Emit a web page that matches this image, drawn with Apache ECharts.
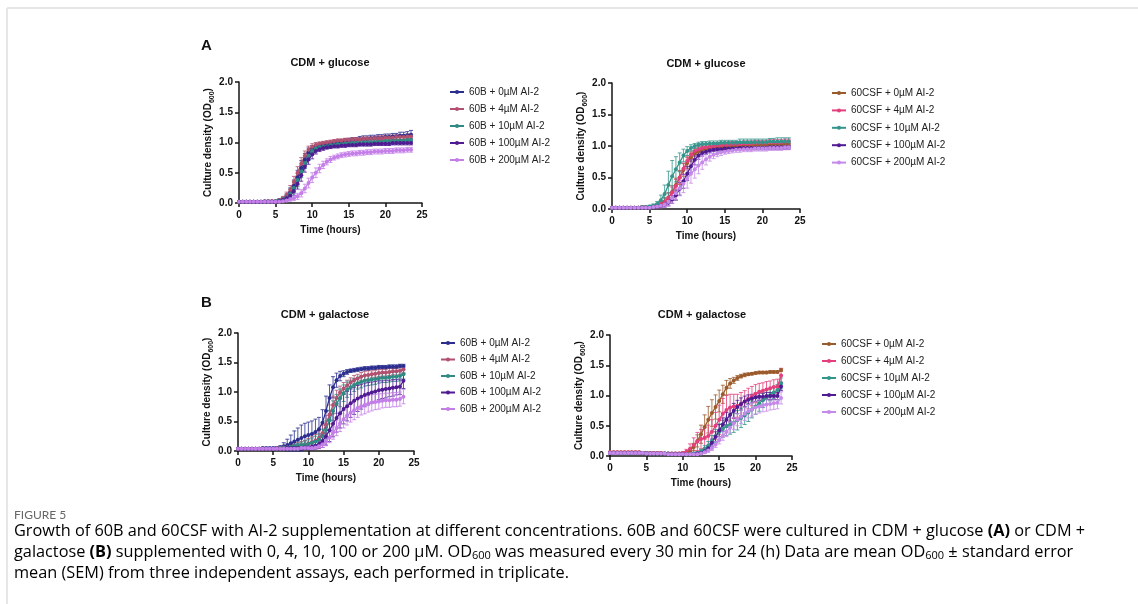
<!DOCTYPE html>
<html><head><meta charset="utf-8">
<script src="https://cdn.jsdelivr.net/npm/echarts@6/dist/echarts.min.js"></script>
<style>html,body{margin:0;padding:0;background:#fff}#c{width:1138px;height:604px}</style>
</head><body><div id="c"></div><script>
// ---------- DATA ----------
const hours = [0,0.5,1,1.5,2,2.5,3,3.5,4,4.5,5,5.5,6,6.5,7,7.5,8,8.5,9,9.5,
 10,10.5,11,11.5,12,12.5,13,13.5,14,14.5,15,15.5,16,16.5,17,17.5,18,18.5,19,19.5,
 20,20.5,21,21.5,22,22.5,23,23.5];
const xTicks = [0,5,10,15,20,25];
const yTicks = [0,0.5,1,1.5,2];
const concentrations = ['0µM','4µM','10µM','100µM','200µM'];
const strains = ['60B','60CSF'];
const panelTitles = ['CDM + glucose','CDM + glucose','CDM + galactose','CDM + galactose'];
const panelLetters = ['A','B'];

// Panel A left: 60B, CDM + glucose (mean, SEM)
const gluB_0 = [0.02,0.02,0.02,0.02,0.02,0.02,0.02,0.03,0.03,0.03,
 0.03,0.04,0.06,0.10,0.17,0.28,0.42,0.58,0.72,0.83,
 0.89,0.92,0.94,0.96,0.97,0.98,0.99,1.00,1.01,1.02,
 1.03,1.04,1.04,1.05,1.06,1.06,1.07,1.07,1.08,1.08,
 1.09,1.09,1.10,1.10,1.11,1.11,1.12,1.13];
const gluB_0e = [0.01,0.01,0.01,0.01,0.01,0.01,0.01,0.01,0.01,0.01,
 0.01,0.02,0.03,0.05,0.08,0.10,0.12,0.12,0.10,0.08,
 0.06,0.05,0.04,0.04,0.04,0.04,0.04,0.04,0.04,0.04,
 0.04,0.04,0.04,0.05,0.05,0.05,0.05,0.05,0.05,0.05,
 0.05,0.05,0.05,0.05,0.06,0.06,0.06,0.07];
const gluB_4 = [0.02,0.02,0.02,0.02,0.02,0.02,0.02,0.02,0.03,0.03,
 0.03,0.05,0.08,0.13,0.22,0.35,0.50,0.65,0.78,0.88,
 0.93,0.96,0.98,0.99,1.00,1.01,1.02,1.03,1.03,1.04,
 1.04,1.05,1.05,1.05,1.06,1.06,1.06,1.07,1.07,1.07,
 1.08,1.08,1.08,1.09,1.09,1.09,1.10,1.10];
const gluB_4e = [0.01,0.01,0.01,0.01,0.01,0.01,0.01,0.01,0.01,0.01,
 0.01,0.02,0.03,0.05,0.07,0.09,0.10,0.10,0.08,0.06,
 0.05,0.04,0.03,0.03,0.03,0.03,0.03,0.03,0.03,0.03,
 0.03,0.03,0.03,0.03,0.03,0.03,0.03,0.03,0.04,0.04,
 0.04,0.04,0.04,0.04,0.04,0.04,0.04,0.04];
const gluB_10 = [0.02,0.02,0.02,0.02,0.02,0.02,0.02,0.02,0.02,0.02,
 0.03,0.04,0.06,0.09,0.15,0.25,0.38,0.52,0.66,0.78,
 0.86,0.90,0.92,0.93,0.94,0.95,0.96,0.97,0.97,0.98,
 0.98,0.99,0.99,0.99,1.00,1.00,1.00,1.01,1.01,1.01,
 1.02,1.02,1.02,1.03,1.03,1.03,1.04,1.04];
const gluB_10e = [0.01,0.01,0.01,0.01,0.01,0.01,0.01,0.01,0.01,0.01,
 0.01,0.02,0.03,0.05,0.08,0.10,0.11,0.10,0.09,0.07,
 0.05,0.04,0.04,0.04,0.04,0.04,0.04,0.04,0.04,0.04,
 0.04,0.04,0.04,0.04,0.04,0.04,0.04,0.04,0.04,0.04,
 0.04,0.04,0.05,0.05,0.05,0.05,0.05,0.05];
const gluB_100 = [0.02,0.02,0.02,0.02,0.02,0.02,0.02,0.02,0.02,0.02,
 0.02,0.03,0.05,0.08,0.12,0.20,0.32,0.46,0.60,0.72,
 0.80,0.86,0.89,0.91,0.92,0.93,0.94,0.94,0.95,0.95,
 0.96,0.96,0.96,0.97,0.97,0.97,0.97,0.98,0.98,0.98,
 0.98,0.98,0.99,0.99,0.99,0.99,0.99,0.99];
const gluB_100e = [0.01,0.01,0.01,0.01,0.01,0.01,0.01,0.01,0.01,0.01,
 0.01,0.01,0.02,0.04,0.06,0.08,0.09,0.10,0.09,0.08,
 0.07,0.05,0.04,0.04,0.03,0.03,0.03,0.03,0.03,0.03,
 0.03,0.03,0.03,0.03,0.03,0.03,0.03,0.03,0.03,0.03,
 0.03,0.03,0.03,0.03,0.03,0.03,0.03,0.03];
const gluB_200 = [0.02,0.02,0.02,0.02,0.02,0.02,0.02,0.02,0.02,0.02,
 0.02,0.02,0.03,0.04,0.06,0.08,0.11,0.16,0.24,0.33,
 0.42,0.50,0.57,0.63,0.68,0.72,0.75,0.77,0.79,0.80,
 0.81,0.82,0.82,0.83,0.83,0.84,0.84,0.85,0.85,0.85,
 0.86,0.86,0.86,0.87,0.87,0.87,0.88,0.88];
const gluB_200e = [0.01,0.01,0.01,0.01,0.01,0.01,0.01,0.01,0.01,0.01,
 0.01,0.01,0.01,0.02,0.03,0.04,0.05,0.06,0.07,0.08,
 0.08,0.08,0.07,0.06,0.05,0.05,0.04,0.04,0.04,0.04,
 0.04,0.04,0.04,0.04,0.04,0.04,0.04,0.04,0.04,0.04,
 0.04,0.04,0.04,0.04,0.04,0.04,0.04,0.04];

// Panel A right: 60CSF, CDM + glucose
const gluC_0 = [0.02,0.02,0.02,0.02,0.02,0.02,0.02,0.02,0.03,0.03,
 0.03,0.04,0.05,0.08,0.12,0.18,0.27,0.38,0.50,0.62,
 0.73,0.82,0.88,0.91,0.93,0.95,0.96,0.97,0.98,0.98,
 0.99,0.99,1.00,1.00,1.00,1.01,1.01,1.01,1.01,1.02,
 1.02,1.02,1.02,1.03,1.03,1.03,1.03,1.04];
const gluC_0e = [0.01,0.01,0.01,0.01,0.01,0.01,0.01,0.01,0.01,0.01,
 0.01,0.02,0.03,0.04,0.06,0.08,0.10,0.11,0.11,0.10,
 0.09,0.07,0.05,0.04,0.04,0.04,0.04,0.04,0.04,0.04,
 0.04,0.04,0.04,0.04,0.04,0.04,0.04,0.04,0.04,0.04,
 0.04,0.04,0.04,0.04,0.04,0.04,0.04,0.04];
const gluC_4 = [0.02,0.02,0.02,0.02,0.02,0.02,0.02,0.02,0.03,0.03,
 0.03,0.04,0.05,0.08,0.12,0.18,0.26,0.37,0.50,0.64,
 0.76,0.86,0.92,0.95,0.97,0.98,0.99,1.00,1.01,1.01,
 1.02,1.02,1.03,1.03,1.03,1.04,1.04,1.04,1.05,1.05,
 1.05,1.05,1.06,1.06,1.06,1.06,1.07,1.07];
const gluC_4e = [0.01,0.01,0.01,0.01,0.01,0.01,0.01,0.01,0.01,0.01,
 0.01,0.02,0.03,0.04,0.05,0.07,0.09,0.10,0.10,0.09,
 0.08,0.06,0.05,0.04,0.04,0.04,0.04,0.04,0.04,0.04,
 0.04,0.04,0.04,0.04,0.04,0.04,0.04,0.04,0.04,0.04,
 0.04,0.04,0.04,0.04,0.04,0.04,0.04,0.04];
const gluC_10 = [0.02,0.02,0.02,0.02,0.02,0.02,0.02,0.02,0.03,0.03,
 0.04,0.05,0.08,0.14,0.24,0.38,0.52,0.63,0.74,0.85,
 0.92,0.97,1.00,1.02,1.03,1.03,1.04,1.04,1.04,1.05,
 1.05,1.05,1.05,1.05,1.06,1.06,1.06,1.06,1.06,1.06,
 1.06,1.06,1.07,1.07,1.07,1.07,1.07,1.07];
const gluC_10e = [0.01,0.01,0.01,0.01,0.01,0.01,0.01,0.01,0.01,0.01,
 0.02,0.03,0.04,0.08,0.14,0.22,0.25,0.20,0.15,0.10,
 0.07,0.05,0.04,0.04,0.04,0.04,0.04,0.04,0.04,0.04,
 0.04,0.04,0.04,0.04,0.05,0.05,0.05,0.05,0.05,0.05,
 0.05,0.05,0.05,0.05,0.06,0.06,0.06,0.06];
const gluC_100 = [0.02,0.02,0.02,0.02,0.02,0.02,0.02,0.02,0.02,0.02,
 0.02,0.03,0.04,0.05,0.07,0.10,0.15,0.22,0.32,0.44,
 0.56,0.68,0.78,0.85,0.89,0.91,0.93,0.94,0.95,0.95,
 0.96,0.96,0.96,0.96,0.97,0.97,0.97,0.97,0.97,0.97,
 0.97,0.97,0.98,0.98,0.98,0.98,0.98,0.98];
const gluC_100e = [0.01,0.01,0.01,0.01,0.01,0.01,0.01,0.01,0.01,0.01,
 0.01,0.01,0.02,0.03,0.04,0.05,0.06,0.08,0.10,0.11,
 0.11,0.10,0.08,0.06,0.05,0.04,0.04,0.03,0.03,0.03,
 0.03,0.03,0.03,0.03,0.03,0.03,0.03,0.03,0.03,0.03,
 0.03,0.03,0.03,0.03,0.03,0.03,0.03,0.03];
const gluC_200 = [0.02,0.02,0.02,0.02,0.02,0.02,0.02,0.02,0.02,0.02,
 0.02,0.03,0.04,0.05,0.07,0.11,0.17,0.25,0.33,0.40,
 0.48,0.56,0.63,0.69,0.74,0.79,0.83,0.86,0.88,0.90,
 0.91,0.92,0.93,0.94,0.94,0.95,0.95,0.95,0.96,0.96,
 0.96,0.96,0.97,0.97,0.97,0.97,0.98,0.98];
const gluC_200e = [0.01,0.01,0.01,0.01,0.01,0.01,0.01,0.01,0.01,0.01,
 0.01,0.01,0.02,0.03,0.04,0.06,0.08,0.10,0.12,0.14,
 0.15,0.15,0.14,0.13,0.11,0.09,0.07,0.06,0.05,0.05,
 0.04,0.04,0.04,0.04,0.04,0.04,0.04,0.04,0.04,0.04,
 0.04,0.04,0.04,0.04,0.04,0.04,0.04,0.04];

// Panel B left: 60B, CDM + galactose
const galB_0 = [0.04,0.04,0.04,0.04,0.04,0.04,0.04,0.05,0.05,0.05,
 0.05,0.05,0.06,0.08,0.10,0.13,0.16,0.19,0.22,0.25,
 0.27,0.29,0.32,0.37,0.48,0.68,0.90,1.08,1.20,1.27,
 1.31,1.34,1.36,1.37,1.38,1.39,1.40,1.40,1.41,1.41,
 1.42,1.42,1.42,1.43,1.43,1.43,1.44,1.44];
const galB_0e = [0.01,0.01,0.01,0.01,0.01,0.01,0.01,0.01,0.01,0.01,
 0.01,0.02,0.03,0.06,0.10,0.14,0.18,0.20,0.22,0.22,
 0.22,0.22,0.22,0.20,0.22,0.25,0.22,0.18,0.12,0.08,
 0.05,0.04,0.03,0.03,0.03,0.03,0.03,0.03,0.03,0.03,
 0.03,0.03,0.03,0.03,0.03,0.03,0.03,0.03];
const galB_4 = [0.04,0.04,0.04,0.04,0.04,0.04,0.04,0.04,0.04,0.04,
 0.04,0.05,0.05,0.06,0.06,0.07,0.08,0.09,0.10,0.11,
 0.13,0.15,0.18,0.22,0.30,0.45,0.62,0.78,0.90,0.99,
 1.06,1.11,1.16,1.20,1.23,1.26,1.28,1.29,1.30,1.31,
 1.32,1.33,1.33,1.34,1.35,1.35,1.36,1.38];
const galB_4e = [0.01,0.01,0.01,0.01,0.01,0.01,0.01,0.01,0.01,0.01,
 0.01,0.01,0.01,0.02,0.02,0.03,0.04,0.05,0.06,0.07,
 0.08,0.09,0.10,0.12,0.14,0.15,0.16,0.15,0.13,0.11,
 0.10,0.09,0.08,0.08,0.07,0.07,0.07,0.07,0.06,0.06,
 0.06,0.06,0.06,0.06,0.06,0.06,0.06,0.06];
const galB_10 = [0.04,0.04,0.04,0.04,0.04,0.04,0.04,0.04,0.04,0.04,
 0.04,0.04,0.05,0.05,0.06,0.07,0.08,0.09,0.10,0.11,
 0.12,0.14,0.16,0.19,0.25,0.36,0.52,0.68,0.80,0.90,
 0.98,1.04,1.08,1.12,1.15,1.17,1.19,1.20,1.21,1.22,
 1.23,1.24,1.24,1.25,1.26,1.26,1.27,1.30];
const galB_10e = [0.01,0.01,0.01,0.01,0.01,0.01,0.01,0.01,0.01,0.01,
 0.01,0.01,0.01,0.02,0.02,0.03,0.03,0.04,0.05,0.06,
 0.07,0.08,0.09,0.10,0.12,0.15,0.17,0.17,0.16,0.15,
 0.14,0.13,0.12,0.11,0.10,0.10,0.09,0.09,0.09,0.09,
 0.08,0.08,0.08,0.08,0.08,0.08,0.08,0.08];
const galB_100 = [0.04,0.04,0.04,0.04,0.04,0.04,0.04,0.04,0.04,0.04,
 0.04,0.04,0.04,0.04,0.05,0.05,0.05,0.05,0.05,0.06,
 0.06,0.07,0.09,0.12,0.17,0.25,0.35,0.46,0.56,0.64,
 0.71,0.76,0.81,0.85,0.89,0.92,0.95,0.97,0.99,1.01,
 1.03,1.04,1.05,1.06,1.07,1.08,1.09,1.19];
const galB_100e = [0.01,0.01,0.01,0.01,0.01,0.01,0.01,0.01,0.01,0.01,
 0.01,0.01,0.01,0.01,0.02,0.02,0.02,0.02,0.03,0.03,
 0.04,0.05,0.06,0.08,0.11,0.15,0.19,0.22,0.24,0.25,
 0.25,0.25,0.24,0.23,0.22,0.21,0.20,0.19,0.18,0.17,
 0.16,0.15,0.15,0.14,0.14,0.13,0.13,0.13];
const galB_200 = [0.04,0.04,0.04,0.04,0.04,0.04,0.04,0.04,0.04,0.04,
 0.04,0.04,0.04,0.04,0.04,0.04,0.04,0.04,0.05,0.05,
 0.05,0.05,0.06,0.08,0.11,0.16,0.23,0.31,0.39,0.47,
 0.54,0.60,0.65,0.69,0.73,0.76,0.78,0.80,0.82,0.83,
 0.84,0.85,0.86,0.86,0.87,0.87,0.88,0.92];
const galB_200e = [0.01,0.01,0.01,0.01,0.01,0.01,0.01,0.01,0.01,0.01,
 0.01,0.01,0.01,0.01,0.01,0.01,0.01,0.01,0.01,0.01,
 0.01,0.02,0.02,0.03,0.05,0.07,0.09,0.11,0.13,0.14,
 0.15,0.16,0.16,0.16,0.16,0.15,0.15,0.14,0.14,0.13,
 0.13,0.12,0.12,0.12,0.12,0.12,0.12,0.12];

// Panel B right: 60CSF, CDM + galactose
const galC_0 = [0.06,0.06,0.06,0.06,0.06,0.06,0.06,0.06,0.06,0.05,
 0.05,0.05,0.05,0.05,0.05,0.04,0.04,0.04,0.04,0.04,
 0.04,0.05,0.08,0.15,0.25,0.36,0.48,0.60,0.71,0.81,
 0.91,1.02,1.13,1.20,1.25,1.29,1.32,1.34,1.35,1.36,
 1.37,1.38,1.38,1.38,1.39,1.39,1.39,1.42];
const galC_0e = [0.01,0.01,0.01,0.01,0.01,0.01,0.01,0.01,0.01,0.01,
 0.01,0.01,0.01,0.01,0.01,0.01,0.01,0.01,0.01,0.01,
 0.01,0.02,0.04,0.06,0.10,0.15,0.20,0.22,0.22,0.20,
 0.18,0.15,0.12,0.08,0.05,0.04,0.03,0.03,0.02,0.02,
 0.02,0.02,0.02,0.02,0.02,0.02,0.02,0.02];
const galC_4 = [0.06,0.06,0.06,0.06,0.06,0.06,0.06,0.06,0.06,0.05,
 0.05,0.05,0.05,0.05,0.05,0.04,0.04,0.04,0.04,0.04,
 0.05,0.07,0.12,0.18,0.24,0.28,0.30,0.33,0.40,0.50,
 0.60,0.70,0.76,0.80,0.82,0.83,0.86,0.90,0.95,0.99,
 1.03,1.06,1.08,1.10,1.12,1.14,1.15,1.33];
const galC_4e = [0.01,0.01,0.01,0.01,0.01,0.01,0.01,0.01,0.01,0.01,
 0.01,0.01,0.01,0.01,0.01,0.01,0.01,0.01,0.01,0.01,
 0.02,0.04,0.08,0.12,0.15,0.16,0.17,0.18,0.20,0.22,
 0.24,0.25,0.24,0.22,0.20,0.19,0.19,0.18,0.17,0.16,
 0.15,0.14,0.13,0.13,0.12,0.12,0.12,0.12];
const galC_10 = [0.05,0.05,0.05,0.05,0.05,0.05,0.05,0.05,0.05,0.05,
 0.05,0.04,0.04,0.04,0.04,0.04,0.04,0.03,0.03,0.03,
 0.03,0.03,0.03,0.04,0.05,0.08,0.12,0.17,0.25,0.33,
 0.40,0.45,0.49,0.52,0.55,0.59,0.63,0.67,0.72,0.77,
 0.82,0.87,0.92,0.97,1.01,1.05,1.09,1.20];
const galC_10e = [0.01,0.01,0.01,0.01,0.01,0.01,0.01,0.01,0.01,0.01,
 0.01,0.01,0.01,0.01,0.01,0.01,0.01,0.01,0.01,0.01,
 0.01,0.01,0.01,0.02,0.02,0.03,0.05,0.07,0.09,0.11,
 0.13,0.14,0.15,0.16,0.16,0.16,0.16,0.15,0.15,0.14,
 0.13,0.13,0.12,0.11,0.10,0.10,0.09,0.09];
const galC_100 = [0.05,0.05,0.05,0.05,0.05,0.05,0.05,0.05,0.05,0.05,
 0.04,0.04,0.04,0.04,0.04,0.04,0.03,0.03,0.03,0.03,
 0.03,0.03,0.03,0.03,0.04,0.05,0.08,0.13,0.22,0.32,
 0.42,0.52,0.60,0.68,0.75,0.81,0.86,0.90,0.93,0.95,
 0.97,0.98,0.98,0.99,0.99,0.99,0.99,1.15];
const galC_100e = [0.01,0.01,0.01,0.01,0.01,0.01,0.01,0.01,0.01,0.01,
 0.01,0.01,0.01,0.01,0.01,0.01,0.01,0.01,0.01,0.01,
 0.01,0.01,0.01,0.01,0.01,0.02,0.03,0.04,0.06,0.08,
 0.10,0.11,0.12,0.12,0.12,0.11,0.10,0.09,0.08,0.07,
 0.07,0.06,0.06,0.06,0.06,0.06,0.06,0.07];
const galC_200 = [0.05,0.05,0.05,0.05,0.05,0.05,0.05,0.05,0.05,0.05,
 0.04,0.04,0.04,0.04,0.04,0.04,0.03,0.03,0.03,0.03,
 0.03,0.03,0.03,0.03,0.03,0.04,0.06,0.09,0.13,0.19,
 0.26,0.33,0.40,0.47,0.54,0.60,0.65,0.70,0.74,0.77,
 0.80,0.82,0.84,0.85,0.86,0.87,0.88,0.96];
const galC_200e = [0.01,0.01,0.01,0.01,0.01,0.01,0.01,0.01,0.01,0.01,
 0.01,0.01,0.01,0.01,0.01,0.01,0.01,0.01,0.01,0.01,
 0.01,0.01,0.01,0.01,0.01,0.01,0.02,0.03,0.04,0.05,
 0.06,0.07,0.08,0.09,0.10,0.10,0.11,0.11,0.11,0.11,
 0.11,0.11,0.11,0.11,0.10,0.10,0.10,0.10];

const colors60B = ['#2b2e8e','#b2506f','#2f8a83','#4f1a92','#c47ee8'];
const colors60CSF = ['#9b5a2b','#e23f7c','#33958b','#4f1a92','#c58ae9'];

// ---------- LAYOUT ----------
const F = 'Liberation Sans';
const panels = [
  {grid:{left:239,top:82,width:183,height:121}, title:panelTitles[0], tx:330, ty:63, lx:444, ly:81,
   strain:strains[0], colors:colors60B,
   means:[gluB_0,gluB_4,gluB_10,gluB_100,gluB_200], errs:[gluB_0e,gluB_4e,gluB_10e,gluB_100e,gluB_200e]},
  {grid:{left:612,top:83,width:188,height:126}, title:panelTitles[1], tx:706, ty:64, lx:826, ly:82, gap:5.4,
   strain:strains[1], colors:colors60CSF,
   means:[gluC_0,gluC_4,gluC_10,gluC_100,gluC_200], errs:[gluC_0e,gluC_4e,gluC_10e,gluC_100e,gluC_200e]},
  {grid:{left:238,top:333,width:176,height:118}, title:panelTitles[2], tx:325, ty:315, lx:435, ly:332, gap:4.5,
   strain:strains[0], colors:colors60B,
   means:[galB_0,galB_4,galB_10,galB_100,galB_200], errs:[galB_0e,galB_4e,galB_10e,galB_100e,galB_200e]},
  {grid:{left:610,top:335,width:182,height:121}, title:panelTitles[3], tx:702, ty:315, lx:816, ly:333,
   strain:strains[1], colors:colors60CSF,
   means:[galC_0,galC_4,galC_10,galC_100,galC_200], errs:[galC_0e,galC_4e,galC_10e,galC_100e,galC_200e]}
];

const axisCol = '#151515';
const grids=[], xAxes=[], yAxes=[], series=[], legends=[], graphics=[];
panels.forEach((p,pi)=>{
  grids.push(p.grid);
  xAxes.push({type:'value', gridIndex:pi, min:xTicks[0], max:xTicks[xTicks.length-1], interval:xTicks[1]-xTicks[0],
    axisLine:{show:true,onZero:false,lineStyle:{color:axisCol,width:1.5}},
    axisTick:{show:true,length:4,lineStyle:{color:axisCol,width:1.5}},
    axisLabel:{margin:7,fontFamily:F,fontWeight:'bold',fontSize:10,color:'#111'},
    splitLine:{show:false},
    name:'Time (hours)', nameLocation:'middle', nameGap:22,
    nameTextStyle:{fontFamily:F,fontWeight:'bold',fontSize:10,color:'#111'}});
  yAxes.push({type:'value', gridIndex:pi, min:yTicks[0], max:yTicks[yTicks.length-1], interval:yTicks[1]-yTicks[0],
    axisLine:{show:true,lineStyle:{color:axisCol,width:1.5}},
    axisTick:{show:true,length:4,lineStyle:{color:axisCol,width:1.5}},
    axisLabel:{margin:6,fontFamily:F,fontWeight:'bold',fontSize:10,color:'#111',formatter:v=>v.toFixed(1)},
    splitLine:{show:false},
    name:'{a|Culture density (OD}{s|600}{a|)}', nameLocation:'middle', nameRotate:90, nameGap:22,
    nameTextStyle:{rich:{
      a:{fontFamily:F,fontWeight:'bold',fontSize:10,color:'#111',lineHeight:14},
      s:{fontFamily:F,fontWeight:'bold',fontSize:7,color:'#111',lineHeight:7,verticalAlign:'bottom'}}}});
  const names=[];
  p.means.forEach((m,si)=>{
    const name = p.strain+' + '+concentrations[si]+' AI-2';
    names.push(name);
    const col = p.colors[si];
    const e = p.errs[si];
    series.push({type:'custom', name:'err'+pi+'_'+si, xAxisIndex:pi, yAxisIndex:pi, silent:true, z:2,
      data: hours.map((t,k)=>[t,m[k],e[k]]),
      renderItem:(params,api)=>{
        const x=api.value(0), y=api.value(1), d=api.value(2);
        const top=api.coord([x,y+d]), bot=api.coord([x,Math.max(0,y-d)]);
        const st={stroke:col,lineWidth:1,opacity:0.8};
        return {type:'group',children:[
          {type:'line',shape:{x1:top[0],y1:top[1],x2:bot[0],y2:bot[1]},style:st},
          {type:'line',shape:{x1:top[0]-2,y1:top[1],x2:top[0]+2,y2:top[1]},style:st},
          {type:'line',shape:{x1:bot[0]-2,y1:bot[1],x2:bot[0]+2,y2:bot[1]},style:st}]};
      }});
    series.push({type:'line', name, xAxisIndex:pi, yAxisIndex:pi, z:3,
      data: hours.map((t,k)=>[t,m[k]]),
      symbol:'circle', symbolSize:4, showSymbol:true,
      lineStyle:{color:col,width:1.3}, itemStyle:{color:col}});
  });
  legends.push({orient:'vertical', left:p.lx, top:p.ly, itemWidth:14, itemHeight:5, itemGap:p.gap||5,
    selectedMode:false, data:names,
    textStyle:{fontFamily:F,fontSize:10,color:'#222',lineHeight:12}});
  graphics.push({type:'text', x:p.tx, y:p.ty, style:{text:p.title, font:'bold 11px "Liberation Sans"', fill:'#111', align:'center', verticalAlign:'middle'}});
});

graphics.push({type:'text', x:201, y:46, style:{text:panelLetters[0], font:'bold 15px "Liberation Sans"', fill:'#111', align:'left', verticalAlign:'middle'}});
graphics.push({type:'text', x:201, y:303, style:{text:panelLetters[1], font:'bold 15px "Liberation Sans"', fill:'#111', align:'left', verticalAlign:'middle'}});

// border
graphics.push({type:'line', shape:{x1:7,y1:8,x2:1138,y2:8}, style:{stroke:'#e6e6e6',lineWidth:2}});
graphics.push({type:'line', shape:{x1:7,y1:8,x2:7,y2:604}, style:{stroke:'#e6e6e6',lineWidth:2}});

// caption
const CF = 'Open Sans';
const capCol = '#616161';
const capRich = {
  n:{fontFamily:CF,fontSize:16.3,color:capCol,lineHeight:18},
  b:{fontFamily:CF,fontSize:16.3,fontWeight:'bold',color:'#4a4a4a',lineHeight:18},
  s:{fontFamily:CF,fontSize:11,color:capCol,lineHeight:10,verticalAlign:'bottom'}
};
graphics.push({type:'text', x:14, y:515, style:{text:'FIGURE 5', font:'12px Lato', fill:'#666', verticalAlign:'middle'}});
const capLines = [
  '{n|Growth of 60B and 60CSF with AI-2 supplementation at different concentrations. 60B and 60CSF were cultured in CDM + glucose }{b|(A)}{n| or CDM +}',
  '{n|galactose }{b|(B)}{n| supplemented with 0, 4, 10, 100 or 200 μM. OD}{s|600}{n| was measured every 30 min for 24 (h) Data are mean OD}{s|600}{n| ± standard error}',
  '{n|mean (SEM) from three independent assays, each performed in triplicate.}'
];
capLines.forEach((t,i)=>{
  graphics.push({type:'text', x:14, y:531+i*21, style:{text:t, rich:capRich, verticalAlign:'middle'}});
});

const chart = echarts.init(document.getElementById('c'), null, {renderer:'canvas'});
chart.setOption({
  animation:false,
  backgroundColor:'#fff',
  grid:grids, xAxis:xAxes, yAxis:yAxes, legend:legends, series, graphic:graphics
});
</script></body></html>
